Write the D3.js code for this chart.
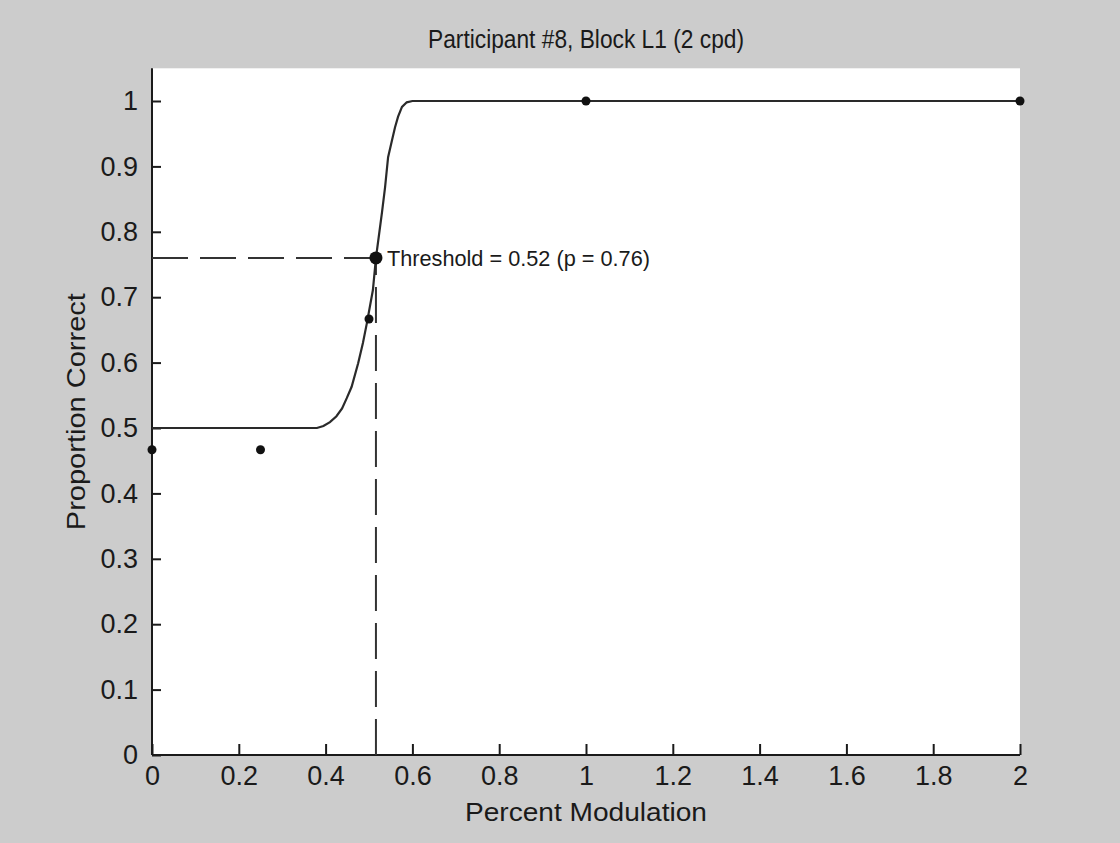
<!DOCTYPE html>
<html>
<head>
<meta charset="utf-8">
<script src="https://cdn.jsdelivr.net/npm/d3@7"></script>
<style>
  html, body { margin: 0; padding: 0; background: #cccccc; }
  svg { display: block; }
  text { font-family: "Liberation Sans", Arial, sans-serif; fill: #1a1a1a; }
</style>
</head>
<body>
<svg id="chart" width="1120" height="843"></svg>
<script>
// ---- data ----
const title = "Participant #8, Block L1 (2 cpd)";
const xLabel = "Percent Modulation";
const yLabel = "Proportion Correct";
const xTickValues = [0, 0.2, 0.4, 0.6, 0.8, 1, 1.2, 1.4, 1.6, 1.8, 2];
const yTickValues = [0, 0.1, 0.2, 0.3, 0.4, 0.5, 0.6, 0.7, 0.8, 0.9, 1];
// observed proportions
const obsX = [0, 0.25, 0.5, 1, 2];
const obsY = [0.4667, 0.4667, 0.6667, 1, 1];
// fitted psychometric curve
const fitX = [0, 0.38, 0.395, 0.41, 0.425, 0.438, 0.449, 0.46, 0.475, 0.486, 0.495, 0.509, 0.516, 0.53, 0.537, 0.544, 0.553, 0.56, 0.567, 0.576, 0.587, 0.6, 2];
const fitY = [0.5, 0.5, 0.503, 0.509, 0.518, 0.53, 0.546, 0.563, 0.599, 0.63, 0.66, 0.711, 0.76, 0.83, 0.868, 0.914, 0.94, 0.96, 0.976, 0.991, 0.998, 1, 1];
// threshold
const thresholdX = 0.516;
const thresholdP = 0.76;
const thresholdLabel = "Threshold = 0.52 (p = 0.76)";

// ---- layout ----
const svg = d3.select("#chart");
const L = 152, R = 1020, T = 68.3, B = 755;

const x = d3.scaleLinear().domain([0, 2]).range([L, R]);
const y = d3.scaleLinear().domain([0, 1.05]).range([B, T]);

// plot background
svg.append("rect").attr("x", L).attr("y", T).attr("width", R - L).attr("height", B - T).attr("fill", "#ffffff");

// axes
const fmt = d => d3.format("~g")(d);
const xAxis = svg.append("g").attr("transform", `translate(0,${B})`)
  .call(d3.axisBottom(x).tickValues(xTickValues).tickFormat(fmt).tickSizeInner(-11).tickSizeOuter(0).tickPadding(11));
const yAxis = svg.append("g").attr("transform", `translate(${L},0)`)
  .call(d3.axisLeft(y).tickValues(yTickValues).tickFormat(fmt).tickSizeInner(-9).tickSizeOuter(0).tickPadding(14));
[xAxis, yAxis].forEach(g => {
  g.select(".domain").attr("stroke", "#1a1a1a").attr("stroke-width", 2);
  g.selectAll(".tick line").attr("stroke", "#1a1a1a").attr("stroke-width", 2);
  g.selectAll(".tick text").attr("font-size", 27).attr("fill", "#1a1a1a")
    .attr("font-family", "'Liberation Sans', Arial, sans-serif");
});
// axis lines limited to plot area
yAxis.select(".domain").attr("d", `M0,${B}V${T}`);
xAxis.select(".domain").attr("d", `M${L},0H${R}`);

// dashed threshold lines
svg.append("line")
  .attr("x1", x(0)).attr("y1", y(thresholdP)).attr("x2", x(thresholdX)).attr("y2", y(thresholdP))
  .attr("stroke", "#333").attr("stroke-width", 2).attr("stroke-dasharray", "36,12");
svg.append("line")
  .attr("x1", x(thresholdX)).attr("y1", y(0)).attr("x2", x(thresholdX)).attr("y2", y(thresholdP))
  .attr("stroke", "#333").attr("stroke-width", 2).attr("stroke-dasharray", "36,12");

// fitted curve
const fitData = fitX.map((v, i) => [v, fitY[i]]);
svg.append("path")
  .datum(fitData)
  .attr("d", d3.line().x(d => x(d[0])).y(d => y(d[1])))
  .attr("fill", "none").attr("stroke", "#2a2a2a").attr("stroke-width", 2.2);

// observed points
svg.selectAll("circle.obs")
  .data(obsX.map((v, i) => [v, obsY[i]]))
  .join("circle").attr("class", "obs")
  .attr("cx", d => x(d[0])).attr("cy", d => y(d[1])).attr("r", 4.5)
  .attr("fill", "#111");

// threshold marker
svg.append("circle").attr("cx", x(thresholdX)).attr("cy", y(thresholdP)).attr("r", 6.5).attr("fill", "#111");
svg.append("text")
  .attr("x", x(thresholdX) + 11).attr("y", y(thresholdP) + 8)
  .attr("font-size", 22.5).attr("textLength", 263).attr("lengthAdjust", "spacingAndGlyphs").text(thresholdLabel);

// title & labels
svg.append("text").attr("x", (L + R) / 2).attr("y", 48).attr("text-anchor", "middle")
  .attr("font-size", 25).attr("textLength", 316).attr("lengthAdjust", "spacingAndGlyphs").text(title);
svg.append("text").attr("x", (L + R) / 2).attr("y", 821).attr("text-anchor", "middle")
  .attr("font-size", 26).attr("textLength", 242).attr("lengthAdjust", "spacingAndGlyphs").text(xLabel);
svg.append("text").attr("transform", `translate(85,${(T + B) / 2}) rotate(-90)`).attr("text-anchor", "middle")
  .attr("font-size", 26).attr("textLength", 237).attr("lengthAdjust", "spacingAndGlyphs").text(yLabel);
</script>
</body>
</html>
